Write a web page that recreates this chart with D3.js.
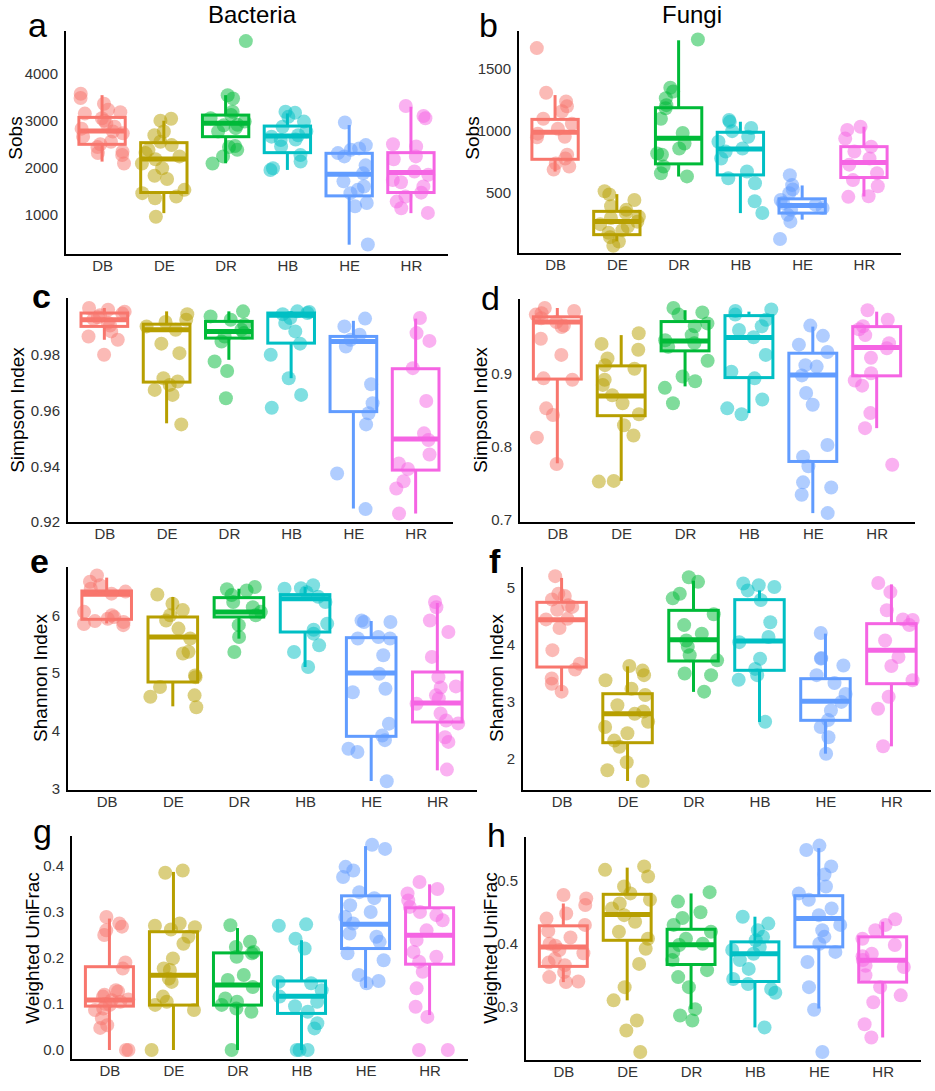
<!DOCTYPE html>
<html><head><meta charset="utf-8">
<script src="https://cdn.jsdelivr.net/npm/d3@7"></script>
<style>body{margin:0;background:#fff} svg{display:block;font-family:"Liberation Sans",Arial,sans-serif}</style>
</head><body><svg id="chart" width="935" height="1091"></svg>
<script>
// ---------- DATA ----------
const groups = ["DB","DE","DR","HB","HE","HR"];
const groupColors = ["#F8766D","#B79F00","#00BA38","#00BFC4","#619CFF","#F564E3"];
const columnTitles = ["Bacteria","Fungi"];

// Box stats per group: [whiskerLow, Q1, median, Q3, whiskerHigh]
const sobsBac = [
 [3570,3480,3360,3230,3180,3150,3050,3000,2940,2870,2830,2770,2730,2660,2550,2500,2440,2340,2310,2270,2090],
 [3040,3000,2770,2690,2550,2480,2380,2310,2240,2180,2090,1990,1830,1760,1530,1460,1390,1350,960],
 [4690,3540,3470,3190,3120,3050,2980,2910,2900,2840,2770,2460,2440,2380,2240,2090],
 [3190,3170,3080,2980,2870,2770,2690,2660,2600,2590,2450,2270,2130,1990,1950],
 [2960,2480,2410,2380,2310,2240,2050,1880,1710,1600,1530,1460,1250,1180,370],
 [3310,3100,3050,2500,2450,2240,2180,1920,1850,1740,1690,1600,1470,1390,1280,1140,1040]
];
const sobsBacBox = [
 [2130,2497,2779,3069,3541],[1035,1473,2186,2532,2998],[2094,2659,2942,3118,3541],
 [1953,2320,2673,2885,3153],[365,1402,1861,2306,2906],[1035,1473,1897,2320,3295]
];
const sobsFun = [
 [1670,1310,1240,1200,1160,1100,1060,1020,980,955,950,810,780,740,715,690],
 [515,490,445,395,365,340,310,300,270,250,230,200,180,145,110,75],
 [1740,1350,1320,1265,1210,1185,1100,985,900,860,820,810,715,660,635],
 [1090,1075,1025,1000,955,915,860,835,780,675,620,580,435,340],
 [645,565,530,500,445,420,405,380,365,325,270,130],
 [1035,1010,940,875,835,780,730,660,605,555,475,470]
];
const sobsFunBox = [
 [674,773,991,1095,1291],[111,165,272,353,492],[634,736,942,1189,1733],
 [339,647,857,991,1076],[286,339,401,454,562],[473,626,747,875,1036]
];
const simpBac = [
 [0.9968,0.9962,0.9955,0.9948,0.9942,0.9935,0.9928,0.9915,0.9905,0.9884,0.9866,0.9854,0.980],
 [0.9946,0.9926,0.9918,0.9902,0.989,0.984,0.9806,0.9716,0.9704,0.9692,0.9674,0.9656,0.955],
 [0.9956,0.9938,0.9926,0.9908,0.989,0.9878,0.9866,0.9848,0.9776,0.9742,0.9644],
 [0.9956,0.9954,0.995,0.9946,0.9932,0.9914,0.9884,0.984,0.98,0.9716,0.9656,0.961],
 [0.993,0.9902,0.9872,0.9854,0.983,0.9694,0.9626,0.959,0.955,0.9374,0.9246],
 [0.9932,0.9878,0.985,0.9752,0.9634,0.9518,0.9494,0.9442,0.941,0.939,0.9346,0.932,0.923]
];
const simpBacBox = [
 [0.9854,0.9902,0.9926,0.995,0.9968],[0.9554,0.9702,0.989,0.991,0.9956],[0.9782,0.986,0.9884,0.992,0.9956],
 [0.9716,0.9842,0.9942,0.995,0.9956],[0.9248,0.9596,0.9848,0.9866,0.9922],[0.923,0.9386,0.9498,0.975,0.993]
];
const simpFun = [
 [0.989,0.985,0.982,0.98,0.975,0.97,0.965,0.963,0.947,0.925,0.893,0.891,0.852,0.843,0.812,0.776],
 [0.9545,0.94,0.932,0.92,0.911,0.906,0.891,0.884,0.87,0.859,0.844,0.829,0.815,0.753,0.752],
 [0.989,0.983,0.98,0.968,0.964,0.952,0.945,0.941,0.936,0.917,0.8955,0.889,0.88,0.859],
 [0.987,0.985,0.98,0.973,0.964,0.959,0.949,0.925,0.902,0.893,0.864,0.852,0.844],
 [0.965,0.951,0.939,0.929,0.911,0.909,0.897,0.873,0.857,0.802,0.786,0.773,0.751,0.744,0.734,0.709],
 [0.986,0.973,0.964,0.96,0.952,0.941,0.934,0.921,0.9,0.89,0.883,0.8455,0.825,0.775]
];
const simpFunBox = [
 [0.777,0.892,0.970,0.977,0.989],[0.753,0.842,0.869,0.910,0.952],[0.882,0.9305,0.944,0.9705,0.986],
 [0.8455,0.894,0.9486,0.9786,0.984],[0.709,0.7795,0.8977,0.9273,0.9636],[0.825,0.8964,0.935,0.9636,0.984]
];
const shanBac = [
 [6.69,6.58,6.52,6.46,6.41,6.375,6.06,6.0,5.97,5.94,5.9,5.885,5.85,5.83],
 [6.36,6.2,6.09,6.0,5.91,5.77,5.6,5.37,5.34,4.96,4.93,4.76,4.615,4.59,4.41],
 [6.49,6.45,6.43,6.35,6.23,6.14,6.06,6.0,5.83,5.625,5.365],
 [6.52,6.47,6.46,6.4,6.32,6.23,5.856,5.75,5.683,5.48,5.365,5.106],
 [5.91,5.885,5.885,5.625,5.6,5.6,5.31,4.99,4.73,4.67,4.125,3.92,3.84,3.69,3.635,3.13],
 [6.23,6.14,5.91,5.71,5.28,4.93,4.77,4.75,4.615,4.56,4.47,4.3,4.18,4.13,3.89,3.81,3.33]
];
const shanBacBox = [
 [5.86,5.931,6.363,6.421,6.652],[4.425,4.846,5.625,5.971,6.317],[5.596,5.971,6.058,6.306,6.46],
 [5.106,5.711,6.288,6.358,6.49],[3.133,3.906,5.002,5.613,5.902],[3.317,4.154,4.483,5.019,6.213]
];
const shanFun = [
 [5.21,4.9,4.86,4.8,4.7,4.67,4.62,4.46,4.45,4.3,3.91,3.67,3.57,3.41,3.32,3.18],
 [3.63,3.55,3.47,3.38,3.23,3.12,2.94,2.83,2.79,2.65,2.56,2.45,2.32,2.21,1.94,1.8,1.61],
 [5.19,5.11,4.9,4.82,4.54,4.35,4.2,4.08,3.97,3.82,3.73,3.5,3.47,3.18],
 [5.08,5.05,5.02,4.96,4.79,4.4,4.14,4.05,3.76,3.58,3.47,3.39,2.65],
 [4.21,3.77,3.76,3.64,3.47,3.33,3.14,3.0,2.85,2.68,2.56,2.38,2.09],
 [5.09,4.93,4.61,4.45,4.44,4.35,4.08,3.79,3.63,3.38,3.09,2.88,2.22]
];
const shanFunBox = [
 [3.19,3.613,4.445,4.75,5.18],[1.61,2.283,2.793,3.144,3.625],[3.176,3.719,4.093,4.609,5.13],
 [2.647,3.555,4.07,4.797,4.96],[2.09,2.676,3.01,3.408,4.2],[2.219,3.32,3.906,4.375,5.066]
];
const unifBac = [
 [0.289,0.275,0.268,0.26,0.25,0.19,0.177,0.13,0.127,0.12,0.116,0.11,0.108,0.105,0.1,0.098,0.09,0.087,0.069,0.054,0.048,0.0,0.0],
 [0.39,0.385,0.275,0.27,0.267,0.262,0.246,0.231,0.199,0.177,0.174,0.155,0.148,0.116,0.105,0.098,0.087,0.0],
 [0.271,0.235,0.224,0.213,0.21,0.2025,0.163,0.152,0.137,0.112,0.105,0.098,0.09,0.083,0.0],
 [0.273,0.27,0.242,0.2205,0.148,0.145,0.13,0.116,0.105,0.095,0.083,0.058,0.047,0.0,0.0,0.0],
 [0.446,0.437,0.398,0.39,0.376,0.343,0.33,0.3145,0.3,0.289,0.275,0.253,0.246,0.235,0.21,0.195,0.163,0.15,0.145],
 [0.365,0.35,0.34,0.325,0.311,0.3,0.293,0.282,0.26,0.239,0.213,0.2025,0.192,0.17,0.134,0.094,0.072,0.0,0.0]
];
const unifBacBox = [
 [0,0.0954,0.1085,0.181,0.2856],[0,0.0976,0.1627,0.257,0.387],[0,0.0976,0.141,0.211,0.265],
 [0,0.0795,0.117,0.15,0.2386],[0.135,0.2205,0.273,0.335,0.443],[0.076,0.1865,0.2494,0.309,0.36]
];
const unifFun = [
 [0.4775,0.472,0.4615,0.448,0.44,0.43,0.42,0.41,0.4,0.397,0.39,0.385,0.376,0.37,0.366,0.355,0.347,0.339,0.34],
 [0.523,0.5175,0.507,0.491,0.48,0.47,0.464,0.456,0.4455,0.435,0.419,0.408,0.392,0.368,0.331,0.31,0.278,0.262,0.228],
 [0.482,0.467,0.45,0.441,0.43,0.419,0.408,0.4,0.398,0.387,0.374,0.358,0.347,0.331,0.296,0.286,0.278],
 [0.443,0.432,0.4215,0.411,0.4055,0.395,0.39,0.384,0.374,0.36,0.344,0.336,0.328,0.322,0.267],
 [0.556,0.549,0.523,0.51,0.491,0.48,0.47,0.456,0.4455,0.43,0.4215,0.411,0.4,0.387,0.371,0.331,0.295,0.228],
 [0.439,0.43,0.4215,0.408,0.398,0.384,0.38,0.374,0.365,0.363,0.35,0.331,0.318,0.307,0.272,0.251]
];
const unifFunBox = [
 [0.339,0.364,0.395,0.4285,0.464],[0.31,0.4055,0.4466,0.4786,0.521],[0.296,0.367,0.3986,0.423,0.48],
 [0.267,0.34,0.384,0.403,0.443],[0.297,0.395,0.44,0.4764,0.552],[0.251,0.339,0.3736,0.411,0.435]
];
const ticksA = [1000,2000,3000,4000], ticksB = [500,1000,1500];
const ticksC = [0.92,0.94,0.96,0.98], ticksD = [0.7,0.8,0.9];
const ticksE = [3,4,5,6], ticksF = [2,3,4,5];
const ticksG = [0.0,0.1,0.2,0.3,0.4], ticksH = [0.3,0.4,0.5];

// ---------- LAYOUT ----------
const panels = [
 {letter:"a", pts:sobsBac, box:sobsBacBox, dom:[146,4904], ticks:ticksA, fmt:"d", ylab:"Sobs", x0:65,x1:448,y0:31,y1:255, lx:28,ly:37,bold:false, tx:15,ty:138},
 {letter:"b", pts:sobsFun, box:sobsFunBox, dom:[9,1808], ticks:ticksB, fmt:"d", ylab:"Sobs", x0:518,x1:901,y0:31,y1:254, lx:479,ly:37,bold:false, tx:472,ty:138},
 {letter:"c", pts:simpBac, box:simpBacBox, dom:[0.9196,1.0004], ticks:ticksC, fmt:".2f", ylab:"Simpson Index", x0:67,x1:453,y0:298,y1:523, lx:32,ly:308,bold:true, tx:17,ty:410},
 {letter:"d", pts:simpFun, box:simpFunBox, dom:[0.6955,1.0013], ticks:ticksD, fmt:".1f", ylab:"Simpson Index", x0:519,x1:915,y0:299,y1:523, lx:481,ly:310,bold:false, tx:480,ty:410},
 {letter:"e", pts:shanBac, box:shanBacBox, dom:[2.96,6.836], ticks:ticksE, fmt:"d", ylab:"Shannon Index", x0:67,x1:477,y0:567,y1:791, lx:30,ly:573,bold:true, tx:40,ty:678},
 {letter:"f", pts:shanFun, box:shanFunBox, dom:[1.434,5.371], ticks:ticksF, fmt:"d", ylab:"Shannon Index", x0:522,x1:931,y0:567,y1:791, lx:489,ly:573,bold:true, tx:496,ty:678},
 {letter:"g", pts:unifBac, box:unifBacBox, dom:[-0.0217,0.465], ticks:ticksG, fmt:".1f", ylab:"Weighted UniFrac", x0:71,x1:468,y0:836,y1:1060, lx:33,ly:843,bold:false, tx:32,ty:948},
 {letter:"h", pts:unifFun, box:unifFunBox, dom:[0.2136,0.5697], ticks:ticksH, fmt:".1f", ylab:"Weighted UniFrac", x0:525,x1:921,y0:837,y1:1061, lx:487,ly:847,bold:false, tx:490,ty:948}
];

const svg = d3.select("#chart");
svg.append("rect").attr("width",935).attr("height",1091).attr("fill","#fff");

// column titles
svg.append("text").attr("x",252).attr("y",23).attr("text-anchor","middle").attr("font-size",24).attr("fill","#000").text(columnTitles[0]);
svg.append("text").attr("x",692).attr("y",23).attr("text-anchor","middle").attr("font-size",24).attr("fill","#000").text(columnTitles[1]);

panels.forEach((p, pi) => {
  const x = d3.scalePoint().domain(groups).range([p.x0, p.x1]).padding(0.6);
  const y = d3.scaleLinear().domain(p.dom).range([p.y1, p.y0]);
  const step = x.step();
  const bw = step * 0.75;
  const g = svg.append("g");

  // deterministic jitter generator (layout only)
  let seed = 12345 + pi * 7919;
  const rnd = () => { seed = (seed * 1664525 + 1013904223) % 4294967296; return seed / 4294967296; };

  // boxes
  groups.forEach((grp, gi) => {
    const [lo, q1, med, q3, hi] = p.box[gi];
    const cx = x(grp), col = groupColors[gi];
    const bg = g.append("g");
    bg.append("line").attr("x1",cx).attr("x2",cx).attr("y1",y(q3)).attr("y2",y(hi)).attr("stroke",col).attr("stroke-width",3);
    bg.append("line").attr("x1",cx).attr("x2",cx).attr("y1",y(q1)).attr("y2",y(lo)).attr("stroke",col).attr("stroke-width",3);
    bg.append("rect").attr("x",cx-bw/2).attr("y",y(q3)).attr("width",bw).attr("height",Math.max(0,y(q1)-y(q3)))
      .attr("fill","none").attr("stroke",col).attr("stroke-width",3);
    bg.append("line").attr("x1",cx-bw/2).attr("x2",cx+bw/2).attr("y1",y(med)).attr("y2",y(med)).attr("stroke",col).attr("stroke-width",5);
  });

  // jittered points
  groups.forEach((grp, gi) => {
    const col = groupColors[gi];
    g.append("g").selectAll("circle").data(p.pts[gi]).join("circle")
      .attr("cx", () => x(grp) + (rnd() - 0.5) * 2 * 0.36 * step)
      .attr("cy", d => y(d))
      .attr("r", 7)
      .attr("fill", col).attr("fill-opacity", 0.5);
  });

  // axes
  const yAxis = d3.axisLeft(y).tickValues(p.ticks).tickSize(0).tickPadding(7).tickFormat(d3.format(p.fmt));
  const ya = g.append("g").attr("transform",`translate(${p.x0},0)`).call(yAxis);
  ya.select(".domain").remove();
  ya.selectAll("text").attr("font-size",15).attr("fill","#333").attr("font-family","Liberation Sans, Arial, sans-serif");

  const xAxis = d3.axisBottom(x).tickSize(0).tickPadding(5);
  const xa = g.append("g").attr("transform",`translate(0,${p.y1})`).call(xAxis);
  xa.select(".domain").remove();
  xa.selectAll("text").attr("font-size",15).attr("fill","#333").attr("font-family","Liberation Sans, Arial, sans-serif");

  g.append("line").attr("x1",p.x0).attr("x2",p.x0).attr("y1",p.y0).attr("y2",p.y1+1).attr("stroke","#000").attr("stroke-width",2);
  g.append("line").attr("x1",p.x0-1).attr("x2",p.x1).attr("y1",p.y1).attr("y2",p.y1).attr("stroke","#000").attr("stroke-width",2);

  // y title
  g.append("text").attr("transform",`translate(${p.tx},${p.ty}) rotate(-90)`).attr("text-anchor","middle")
    .attr("dominant-baseline","central").attr("font-size",19).attr("fill","#000").text(p.ylab);

  // panel letter
  g.append("text").attr("x",p.lx).attr("y",p.ly).attr("font-size",34).attr("font-weight",p.bold?"bold":"normal")
    .attr("fill","#000").text(p.letter);
});
</script></body></html>
